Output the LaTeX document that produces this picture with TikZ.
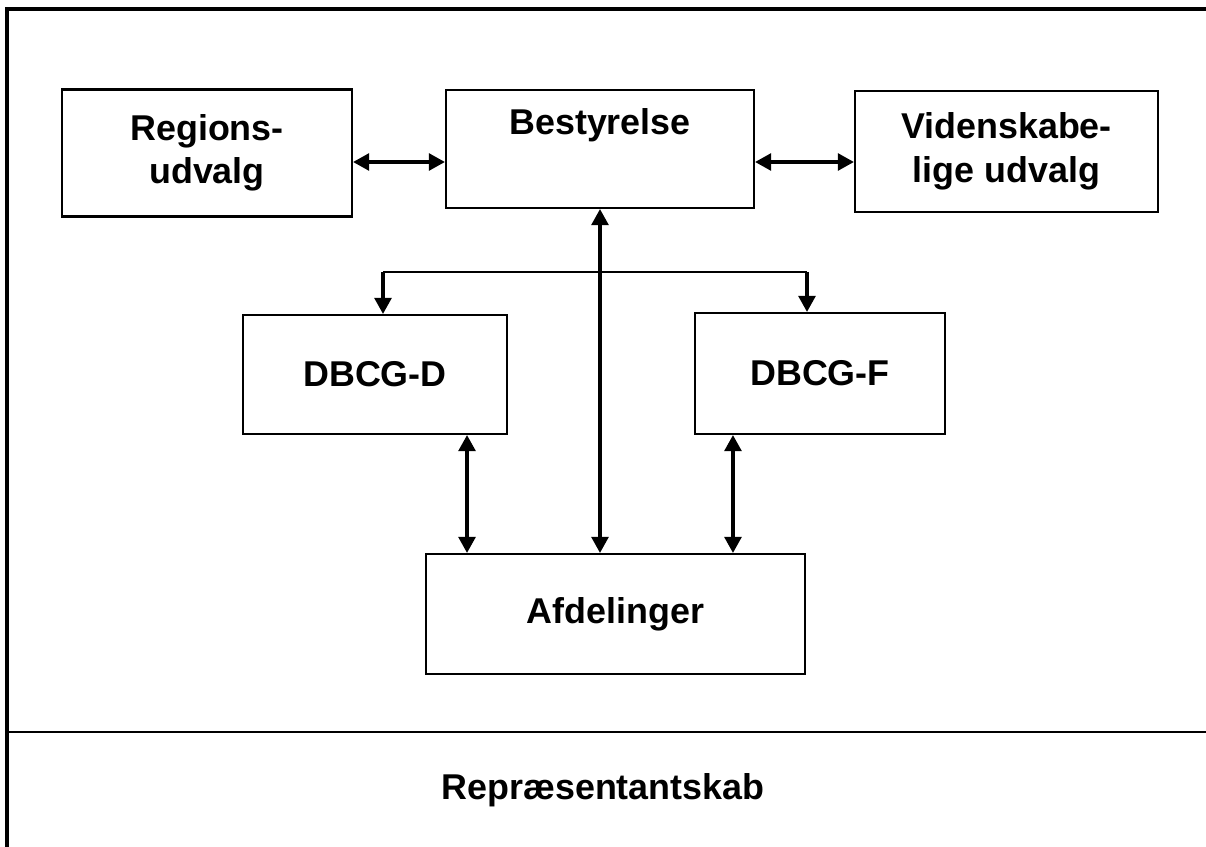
\documentclass[tikz,border=0pt]{standalone}
\usepackage{fontspec}
\setmainfont{Liberation Sans}
\usetikzlibrary{arrows.meta}

\tikzset{
  box/.style={draw,line width=1.5pt,align=center,inner sep=0pt,
    font=\fontsize{25.5}{31}\selectfont\bfseries},
  lbl/.style={inner sep=0pt,font=\fontsize{25.5}{31}\selectfont\bfseries},
  both/.style={line width=2.3pt,{Triangle[length=0.4cm,width=0.42cm]}-{Triangle[length=0.4cm,width=0.42cm]}},
  one/.style={line width=2.3pt,-{Triangle[length=0.4cm,width=0.42cm]}},
  frame/.style={line width=2.4pt}
}

\begin{document}
\begin{tikzpicture}[x=0.025cm,y=-0.025cm]
\useasboundingbox (0,0) rectangle (1206,847);
\draw[frame](1206,9)--(7,9)--(7,847);
\draw[line width=1.8pt](7,732)--(1206,732);

\node[box,minimum width=7.25cm,minimum height=3.175cm] (reg) at (207,153) {Regions-\\udvalg};
\node[box,minimum width=7.7cm,minimum height=2.95cm] (best) at (600,149) {};
\node[lbl] (bestlbl) at (600,125) {Bestyrelse};
\node[box,minimum width=7.575cm,minimum height=3.025cm] (vid) at (1006.5,151.5) {Videnskabe-\\lige udvalg};
\node[box,minimum width=6.6cm,minimum height=2.975cm] (dbcgd) at (375,374.5) {DBCG-D};
\node[box,minimum width=6.25cm,minimum height=3.025cm] (dbcgf) at (820,373.5) {DBCG-F};
\node[box,minimum width=9.475cm,minimum height=3cm] (afd) at (615.5,614) {Afdelinger};
\node[lbl] (rep) at (603,790) {Repræsentantskab};

\coordinate (arow) at (400,162);
\coordinate (busl) at (383,272);
\coordinate (busr) at (807,272);

\draw[both](reg.east|-arow)--(best.west|-arow);
\draw[both](best.east|-arow)--(vid.west|-arow);
\draw[line width=1.4pt](busl)--(busr);
\draw[one](busl)--(dbcgd.north-|busl);
\draw[one](busr)--(dbcgf.north-|busr);
\draw[both](best.south)--(afd.north-|best.south);
\draw[both]([xshift=2.3cm]dbcgd.south)--([xshift=2.3cm]dbcgd.south|-afd.north);
\draw[both]([xshift=-2.175cm]dbcgf.south)--([xshift=-2.175cm]dbcgf.south|-afd.north);
\end{tikzpicture}
\end{document}
